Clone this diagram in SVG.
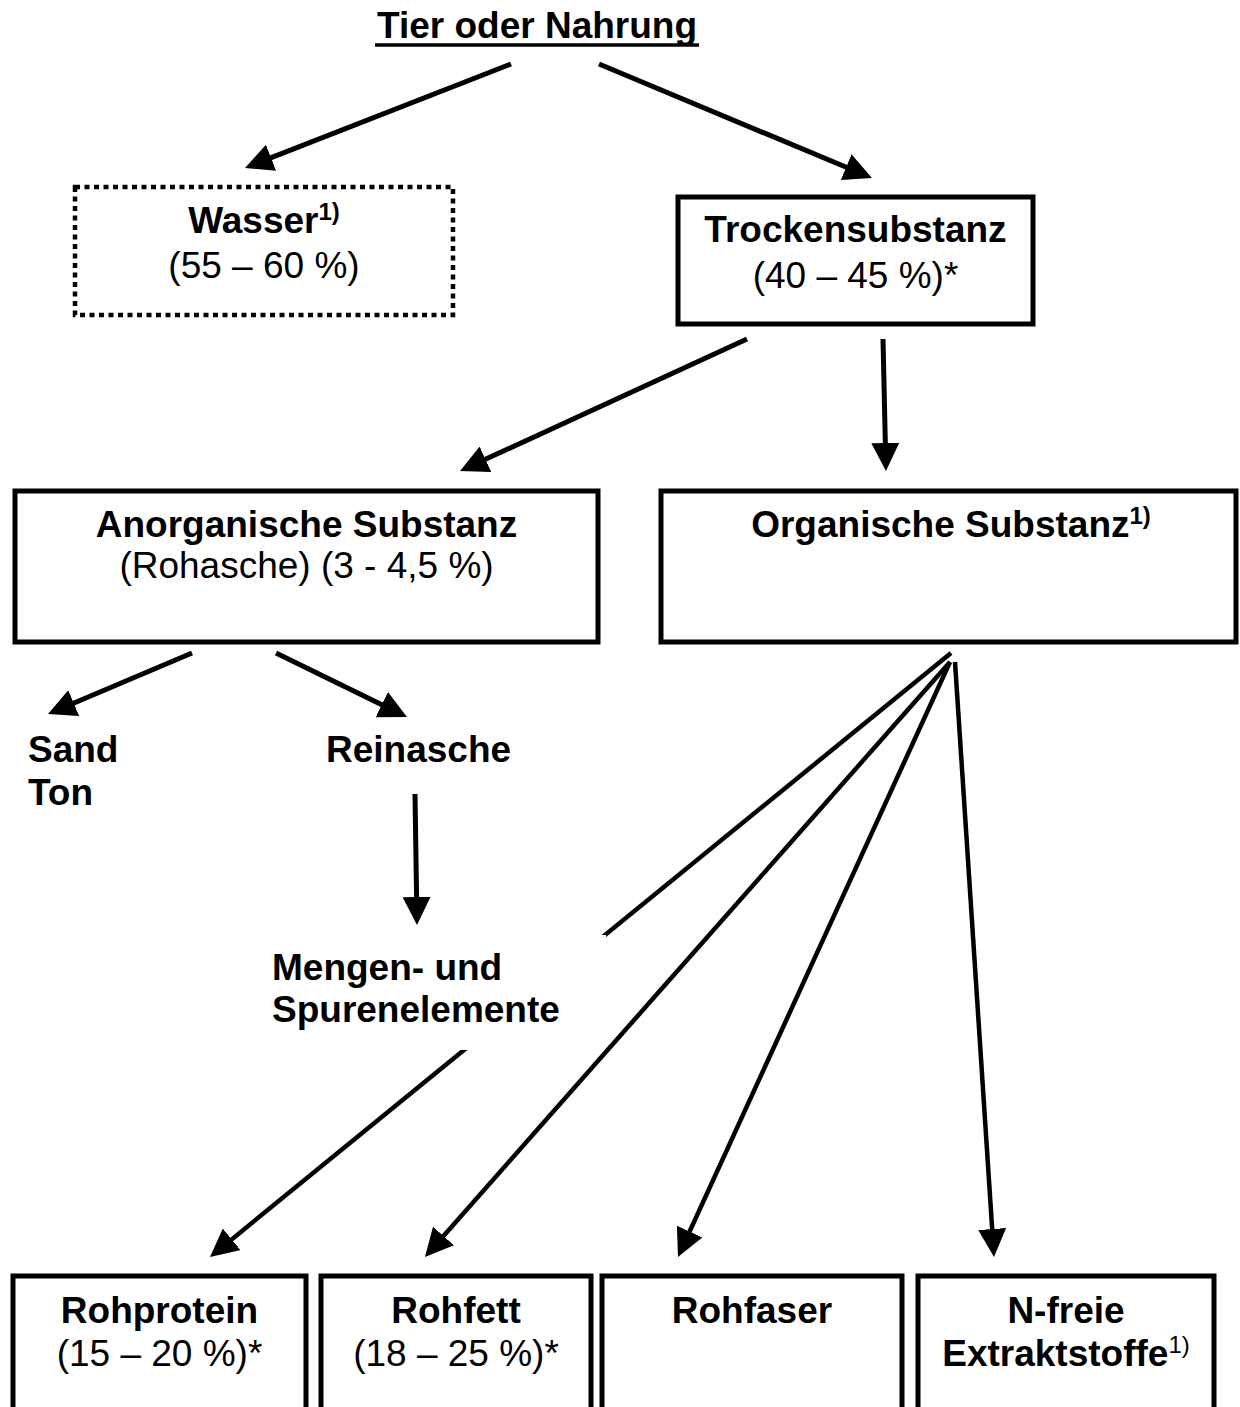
<svg xmlns="http://www.w3.org/2000/svg" width="1240" height="1407" viewBox="0 0 1240 1407">
<style>
text{font-family:"Liberation Sans",Arial,sans-serif;font-size:37px;fill:#000}
.b{font-weight:bold}
.sup{font-size:24px}
.box{fill:none;stroke:#000;stroke-width:5}
.dot{fill:none;stroke:#000;stroke-width:4.5;stroke-dasharray:5 4.5}
.con line{stroke:#000;stroke-width:5;fill:none;marker-end:url(#ah)}
.con .fan{stroke-width:4.5}
</style>
<defs>
<marker id="ah" viewBox="0 0 28 28" markerWidth="28" markerHeight="28" refX="8" refY="14" orient="auto" markerUnits="userSpaceOnUse">
<path d="M0,0 L28,14 L0,28 Z" fill="#000"/>
</marker>
<clipPath id="gap">
<path clip-rule="evenodd" d="M0,0H1240V1407H0Z M0,935H606V1050H0Z"/>
</clipPath>
</defs>
<rect width="1240" height="1407" fill="#fff"/>

<g class="con" id="connectors">
<line x1="511" y1="64" x2="263.6" y2="160.7"/>
<line x1="599" y1="64" x2="853.5" y2="170.3"/>
<line x1="747" y1="339" x2="478.2" y2="462.6"/>
<line x1="883" y1="339" x2="885.5" y2="451"/>
<line x1="192" y1="653" x2="66.4" y2="706.2"/>
<line x1="276" y1="653" x2="389" y2="708.2"/>
<line x1="415" y1="794" x2="416.7" y2="905"/>
<line class="fan" x1="951" y1="653" x2="225.5" y2="1244.4" clip-path="url(#gap)"/>
<line class="fan" x1="950" y1="662" x2="438.2" y2="1242"/>
<line class="fan" x1="950" y1="662" x2="686.3" y2="1238.8"/>
<line class="fan" x1="955" y1="662" x2="992.7" y2="1237"/>
</g>

<g id="title">
<text class="b" x="537" y="38" text-anchor="middle">Tier oder Nahrung</text>
<line x1="375" y1="45" x2="699" y2="45" stroke="#000" stroke-width="3.5"/>
</g>

<g id="wasser">
<rect class="dot" x="75" y="187" width="378" height="128"/>
<text class="b" x="264" y="233" text-anchor="middle">Wasser<tspan class="sup" dy="-13">1)</tspan></text>
<text x="264" y="278" text-anchor="middle">(55 – 60 %)</text>
</g>

<g id="trockensubstanz">
<rect class="box" x="678" y="197" width="355" height="127"/>
<text class="b" x="855.5" y="242" text-anchor="middle">Trockensubstanz</text>
<text x="855.5" y="288" text-anchor="middle">(40 – 45 %)*</text>
</g>

<g id="anorganisch">
<rect class="box" x="15" y="491" width="583" height="151"/>
<text class="b" x="306.5" y="537" text-anchor="middle">Anorganische Substanz</text>
<text x="306.5" y="578" text-anchor="middle">(Rohasche) (3 - 4,5 %)</text>
</g>

<g id="organisch">
<rect class="box" x="661" y="491" width="575" height="151"/>
<text class="b" x="951" y="537" text-anchor="middle">Organische Substanz<tspan class="sup" dy="-13">1)</tspan></text>
</g>

<g id="sandton">
<text class="b" x="28" y="762">Sand</text>
<text class="b" x="28" y="805">Ton</text>
</g>

<g id="reinasche">
<text class="b" x="326" y="762">Reinasche</text>
</g>

<g id="mengen">
<text class="b" x="272" y="980">Mengen- und</text>
<text class="b" x="272" y="1022">Spurenelemente</text>
</g>

<g id="rohprotein">
<rect class="box" x="13" y="1276" width="293" height="140"/>
<text class="b" x="159.5" y="1323" text-anchor="middle">Rohprotein</text>
<text x="159.5" y="1366" text-anchor="middle">(15 – 20 %)*</text>
</g>

<g id="rohfett">
<rect class="box" x="321" y="1276" width="270" height="140"/>
<text class="b" x="456" y="1323" text-anchor="middle">Rohfett</text>
<text x="456" y="1366" text-anchor="middle">(18 – 25 %)*</text>
</g>

<g id="rohfaser">
<rect class="box" x="602" y="1276" width="300" height="140"/>
<text class="b" x="752" y="1323" text-anchor="middle">Rohfaser</text>
</g>

<g id="nfreie">
<rect class="box" x="918" y="1276" width="296" height="140"/>
<text class="b" x="1066" y="1323" text-anchor="middle">N-freie</text>
<text class="b" x="1066" y="1366" text-anchor="middle">Extraktstoffe<tspan class="sup" font-weight="normal" dy="-13">1)</tspan></text>
</g>
</svg>
